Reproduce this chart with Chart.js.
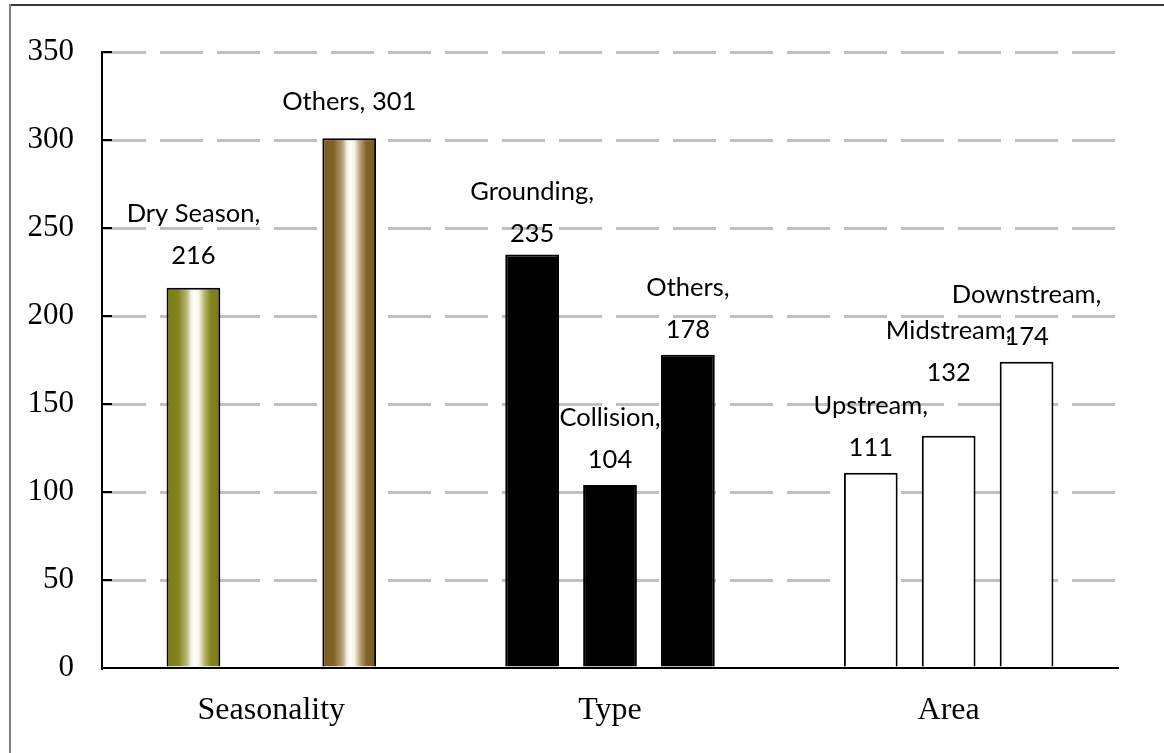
<!DOCTYPE html>
<html>
<head>
<meta charset="utf-8">
<script src="https://cdn.jsdelivr.net/npm/chart.js@4/dist/chart.umd.min.js"></script>
<style>
  html, body { margin: 0; padding: 0; background: #ffffff; }
  #wrap { width: 1164px; height: 753px; position: relative; }
</style>
</head>
<body>
<div id="wrap"><canvas id="chart" width="1164" height="753"></canvas></div>
<script>
// Accident counts grouped by seasonality, type and area
const categories = ['Seasonality', 'Type', 'Area'];

const firstNames  = ['Dry Season', 'Grounding', 'Upstream'];
const firstValues = [216, 235, 111];

const secondNames  = [null, 'Collision', 'Midstream'];
const secondValues = [null, 104, 132];

const thirdNames  = ['Others', 'Others', 'Downstream'];
const thirdValues = [301, 178, 174];

const yMax = 350;
const yStep = 50;

// Fill style keys for each bar (gradient keys are painted per bar)
const fillKeys = [
  ['olive', 'black', 'white'],
  [null,    'black', 'white'],
  ['brown', 'black', 'white']
];

const gradientStops = {
  olive: ['#7b7b12', '#848420', '#b8b878', '#f4f4e6', '#ffffff'],
  brown: ['#7a5a1e', '#83642a', '#b9a27a', '#f4efe4', '#ffffff']
};

const solidFill = { black: '#000000', white: '#ffffff' };

const labelFont = '25.5px Lato';
const yTickFont = { family: '"Liberation Serif", "Times New Roman", serif', size: 31 };
const xTickFont = { family: '"Liberation Serif", "Times New Roman", serif', size: 32 };

function makeGradient(ctx, key, left, right) {
  const g = ctx.createLinearGradient(left, 0, right, 0);
  const s = gradientStops[key];
  g.addColorStop(0.00, s[0]);
  g.addColorStop(0.22, s[1]);
  g.addColorStop(0.38, s[2]);
  g.addColorStop(0.46, s[3]);
  g.addColorStop(0.52, s[4]);
  g.addColorStop(0.60, s[3]);
  g.addColorStop(0.70, s[2]);
  g.addColorStop(0.82, s[1]);
  g.addColorStop(1.00, s[0]);
  return g;
}

// White page with the frame lines along the top and left
const framePlugin = {
  id: 'frame',
  beforeDraw(chart) {
    const ctx = chart.ctx;
    ctx.save();
    ctx.fillStyle = '#ffffff';
    ctx.fillRect(0, 0, chart.width, chart.height);
    ctx.lineWidth = 2;
    ctx.strokeStyle = '#3a3a3a';
    ctx.beginPath();
    ctx.moveTo(9, 5);
    ctx.lineTo(chart.width, 5);
    ctx.stroke();
    ctx.strokeStyle = '#808080';
    ctx.beginPath();
    ctx.moveTo(10, 4);
    ctx.lineTo(10, chart.height);
    ctx.stroke();
    ctx.restore();
  }
};

// Gradient fills and the "name, value" labels sitting above each bar
const barDecorPlugin = {
  id: 'barDecor',
  beforeDatasetsDraw(chart, args, opts) {
    const ctx = chart.ctx;
    const names = [firstNames, secondNames, thirdNames];
    chart.data.datasets.forEach((ds, di) => {
      const meta = chart.getDatasetMeta(di);
      meta.data.forEach((bar, i) => {
        const v = ds.data[i];
        if (v === null || v === undefined) return;
        const key = fillKeys[di][i];
        const half = bar.width / 2;
        const fill = gradientStops[key]
          ? makeGradient(ctx, key, bar.x - half, bar.x + half)
          : solidFill[key];
        bar.options = Object.assign({}, bar.options, { backgroundColor: fill });

        // label text
        const lift = (opts.lift[di] && opts.lift[di][i]) || 0;
        const single = opts.singleLine[di] && opts.singleLine[di][i];
        ctx.save();
        ctx.font = labelFont;
        ctx.fillStyle = '#000000';
        ctx.textAlign = 'center';
        ctx.textBaseline = 'middle';
        const top = bar.y;
        if (single) {
          ctx.fillText(names[di][i] + ', ' + v, bar.x, top - 36 - lift);
        } else {
          ctx.fillText(String(v), bar.x, top - 25 - lift);
          ctx.fillText(names[di][i] + ',', bar.x, top - 67 - lift);
        }
        ctx.restore();
      });
    });
  },
  afterDraw(chart) {
    // short inside tick marks on the value axis
    const y = chart.scales.y;
    const ctx = chart.ctx;
    ctx.save();
    ctx.strokeStyle = '#000000';
    ctx.lineWidth = 2;
    y.ticks.forEach(t => {
      const py = Math.round(y.getPixelForValue(t.value));
      ctx.beginPath();
      ctx.moveTo(chart.chartArea.left, py);
      ctx.lineTo(chart.chartArea.left + 10, py);
      ctx.stroke();
    });
    ctx.restore();
  }
};

function build() {
  const common = {
    borderColor: '#000000',
    borderWidth: 2,
    borderSkipped: 'bottom',
    categoryPercentage: 0.69,
    barPercentage: 0.69,
    backgroundColor: '#ffffff'
  };
  new Chart(document.getElementById('chart'), {
    type: 'bar',
    data: {
      labels: categories,
      datasets: [
        Object.assign({ label: 'first', data: firstValues }, common),
        Object.assign({ label: 'second', data: secondValues }, common),
        Object.assign({ label: 'third', data: thirdValues }, common)
      ]
    },
    options: {
      responsive: false,
      animation: false,
      events: [],
      layout: { padding: { left: 0, top: 52, right: 46, bottom: 0 } },
      plugins: {
        legend: { display: false },
        tooltip: { enabled: false },
        barDecor: {
          lift: [[7, -4, 0], [0, 0, 38], [0, 0, 0]],
          singleLine: [[false, false, false], [false, false, false], [true, false, false]]
        }
      },
      scales: {
        x: {
          grid: { display: false, drawTicks: false },
          border: { display: true, color: '#000000', width: 2 },
          ticks: { color: '#000000', font: xTickFont, padding: 23, maxRotation: 0 },
          afterFit(scale) { scale.height = 85; }
        },
        y: {
          min: 0,
          max: yMax,
          grid: {
            drawTicks: false,
            lineWidth: 3,
            color: (c) => (c.tick && c.tick.value === 0) ? 'rgba(0,0,0,0)' : '#c0c0c0'
          },
          border: { display: true, color: '#000000', width: 2, dash: [43, 14] },
          ticks: { stepSize: yStep, color: '#000000', font: yTickFont, padding: 28 },
          afterFit(scale) { scale.width = 102; }
        }
      }
    },
    plugins: [framePlugin, barDecorPlugin]
  });
}

Promise.all([
  document.fonts.load('25.5px Lato'),
  document.fonts.load('31px "Liberation Serif"')
]).then(build, build);
</script>
</body>
</html>
